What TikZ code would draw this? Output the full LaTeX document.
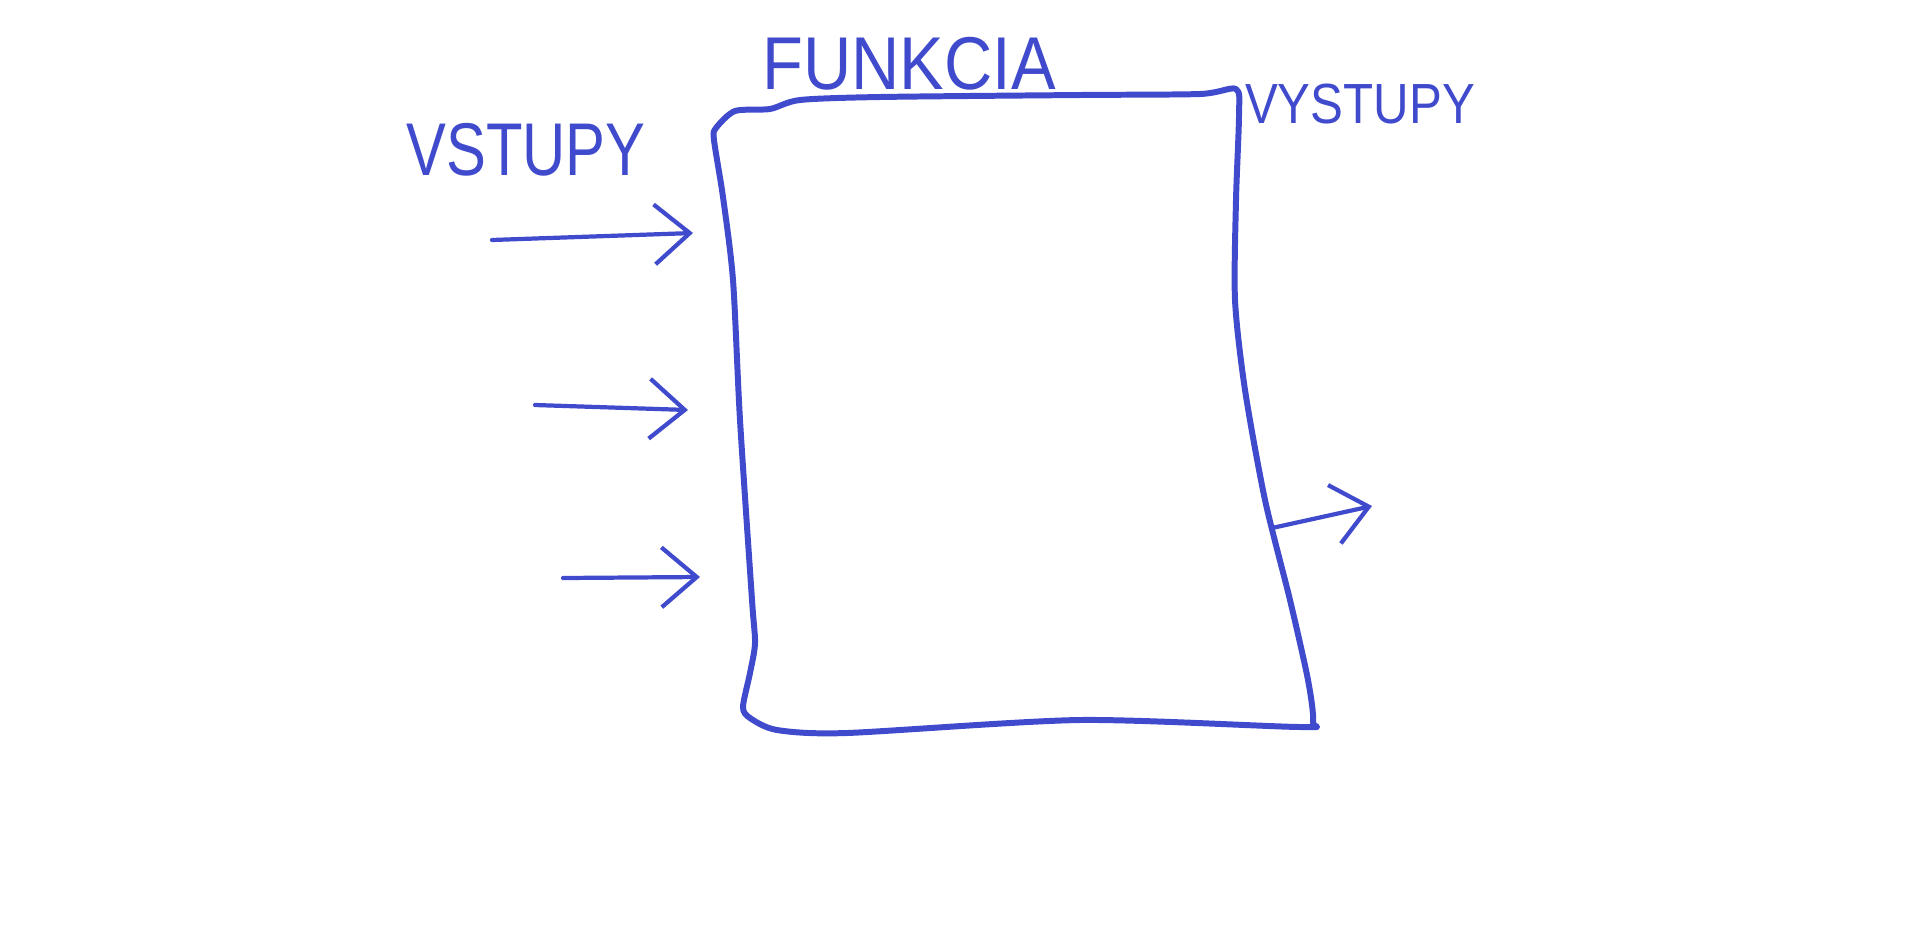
\documentclass[tikz,border=0pt]{standalone}
\usepackage{fontspec}
\setmainfont{Liberation Sans}
\usetikzlibrary{arrows.meta}
\definecolor{pen}{RGB}{64,74,204}
\tikzset{
  handtext/.style={text=pen, inner sep=0pt},
  flow/.style={draw=pen, line width=1.2pt, line cap=round,
               -{Straight Barb[length=10pt,width=17pt,line width=1.2pt]}}
}
\begin{document}
\begin{tikzpicture}[x=0.01cm,y=-0.01cm]
\useasboundingbox (0,0) rectangle (1924,948);

% the function box
\draw[pen, line width=1.7pt, line join=round]
  plot[smooth cycle, tension=0.45] coordinates {
    (716,128) (735,111) (770,109) (800,100) (880,97) (1080,95)
    (1200,94) (1236,89) (1239,115) (1236,200) (1235,300) (1245,390)
    (1265,500) (1290,600) (1308,680) (1313,722) (1300,727) (1080,720)
    (847,733) (777,730) (750,718) (743,707) (750,673) (755,643)
    (752,600) (740,420) (733,280) (723,197) (714,140)};

\begin{scope}[every node/.style={handtext}]
    \node (funkcia) at (909,64)  {\fontsize{19}{22}\selectfont\scalebox{1}[1.12]{FUNKCIA}};
    \node (vstupy)  at (526,150) {\fontsize{17}{20}\selectfont\scalebox{1}[1.25]{VSTUPY}};
    \node (vystupy) at (1360,104) {\fontsize{14}{17}\selectfont\scalebox{1}[1.15]{VYSTUPY}};
\end{scope}

\coordinate (in1s) at (492,240);
\coordinate (in1e) at (693,233);
\coordinate (in2s) at (535,405);
\coordinate (in2e) at (688,410);
\coordinate (in3s) at (563,578);
\coordinate (in3e) at (700,577);
\coordinate (outs) at (1272,528);
\coordinate (oute) at (1372,506);

\begin{scope}[every edge/.style={flow}]
    \path (in1s) edge (in1e);
    \path (in2s) edge (in2e);
    \path (in3s) edge (in3e);
    \path (outs) edge (oute);
\end{scope}
\end{tikzpicture}
\end{document}
